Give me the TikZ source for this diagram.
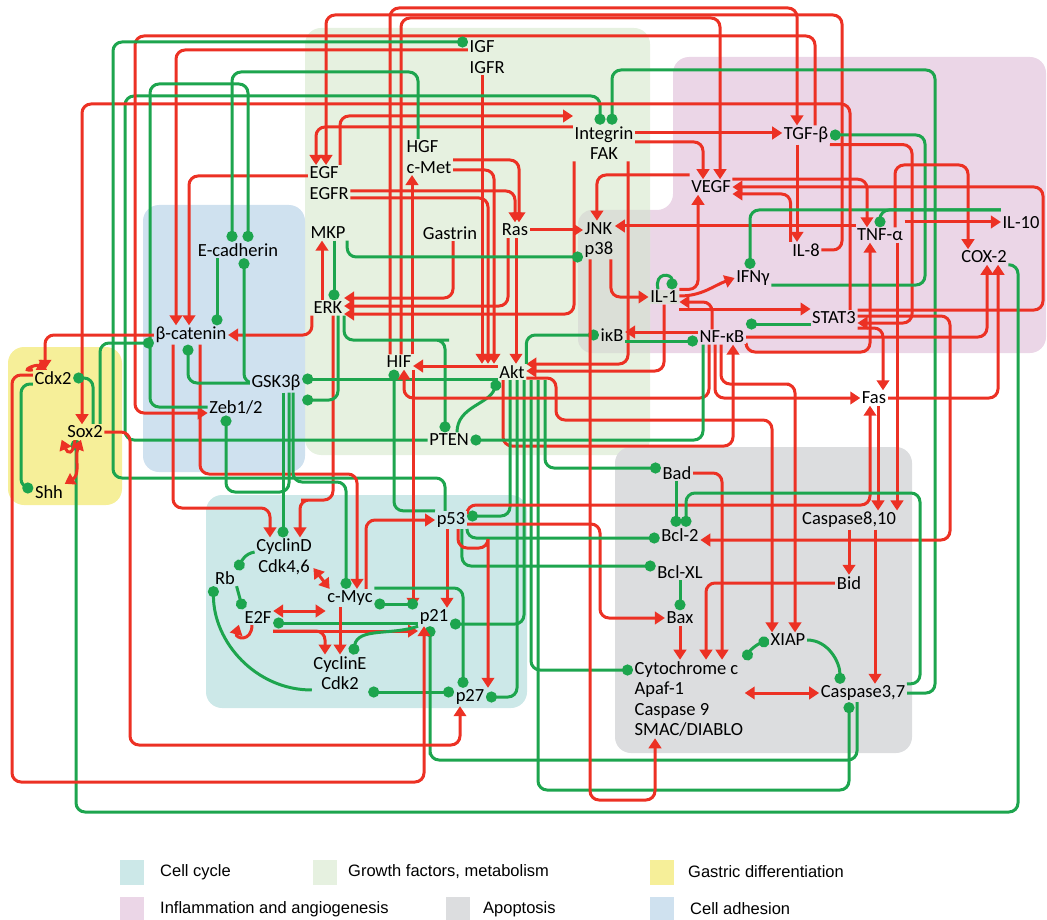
\documentclass[tikz,border=0pt]{standalone}
\usepackage{fontspec}
\setmainfont{Carlito}
\newfontfamily\legendfont{Liberation Sans}
\usetikzlibrary{arrows.meta}

\definecolor{actred}{RGB}{236,49,36}
\definecolor{inhgreen}{RGB}{29,165,78}
\definecolor{cellcycle}{RGB}{204,232,232}
\definecolor{growth}{RGB}{230,241,224}
\definecolor{gastric}{RGB}{246,239,153}
\definecolor{inflam}{RGB}{235,214,231}
\definecolor{apopt}{RGB}{220,221,223}
\definecolor{adhesion}{RGB}{207,225,239}
\definecolor{mixed}{RGB}{219,223,215}

\pgfdeclarelayer{regions}
\pgfdeclarelayer{links}
\pgfsetlayers{regions,links,main}

\tikzset{
  gene/.style={font=\fontsize{18.5}{20.5}\selectfont, inner sep=1.5pt, align=center},
  gf/.style={gene, fill=growth},
  mx/.style={gene, fill=mixed},
  inf/.style={gene, fill=inflam},
  adh/.style={gene, fill=adhesion},
  gas/.style={gene, fill=gastric},
  cc/.style={gene, fill=cellcycle},
  apo/.style={gene, fill=apopt},
  act/.style={draw=actred, line width=3pt, rounded corners=9pt, -{Triangle[length=10pt,width=12.5pt]}},
  dact/.style={act, {Triangle[length=10pt,width=12.5pt]}-{Triangle[length=10pt,width=12.5pt]}},
  inh/.style={draw=inhgreen, line width=3pt, rounded corners=9pt, -{Circle[length=11pt]}},
  dinh/.style={inh, {Circle[length=11pt]}-{Circle[length=11pt]}},
  legendtext/.style={font=\legendfont\fontsize{16.5}{18}\selectfont, inner sep=0pt, anchor=west},
}

\begin{document}
\begin{tikzpicture}[x=1pt,y=-1pt]
\useasboundingbox (0,0) rectangle (1047,920);

% background modules
\begin{pgfonlayer}{regions}
\fill[inflam,rounded corners=16pt] (673,57) -- (1046,57) -- (1046,353) -- (578,353) -- (578,210) -- (673,210) -- cycle;
\fill[growth,rounded corners=16pt] (305,28) rectangle (650,455);
\begin{scope}
  \clip (570,200) rectangle (650,360);
  \fill[mixed,rounded corners=14pt] (578,210) rectangle (690,353);
\end{scope}
\fill[adhesion,rounded corners=16pt] (143,205) rectangle (305,472);
\fill[gastric,rounded corners=16pt] (8,347) rectangle (122,505);
\fill[cellcycle,rounded corners=16pt] (206,495) rectangle (527,708);
\fill[apopt,rounded corners=16pt] (615,447) rectangle (912,753);
\end{pgfonlayer}

% growth factors, metabolism
\node[gf,align=left,anchor=west] (IGF) at (468,57) {IGF\\IGFR};
\node[gf,align=left,anchor=west] (HGF) at (405,157) {HGF\\c-Met};
\node[gf,align=left,anchor=west] (EGF) at (308,183) {EGF\\EGFR};
\node[gf] (Integrin) at (604,143) {Integrin\\FAK};
\node[gf] (MKP) at (328,233) {MKP};
\node[gf] (Gastrin) at (450,233) {Gastrin};
\node[gf] (Ras) at (515,230) {Ras};
\node[gf] (ERK) at (328,308) {ERK};
\node[gf] (HIF) at (399,362) {HIF};
\node[gf] (Akt) at (512,372) {Akt};
\node[gf] (PTEN) at (449,440) {PTEN};
\node[mx,align=left,anchor=west] (JNK) at (583,240) {JNK\\p38};
\node[mx] (IL1) at (664,297) {IL-1};
\node[mx] (IkB) at (612,335) {iκB};
% inflammation and angiogenesis
\node[inf] (TGF) at (806,135) {TGF-β};
\node[inf] (VEGF) at (711,187) {VEGF};
\node[inf] (IL8) at (806,250) {IL-8};
\node[inf] (TNF) at (880,235) {TNF-α};
\node[inf] (IL10) at (1021,223) {IL-10};
\node[inf] (COX2) at (984,257) {COX-2};
\node[inf] (IFN) at (753,278) {IFNγ};
\node[inf] (STAT3) at (834,318) {STAT3};
\node[inf] (NFkB) at (722,337) {NF-κB};
% cell adhesion
\node[adh] (Ecad) at (238,250) {E-cadherin};
\node[adh] (bcat) at (191,335) {β-catenin};
\node[adh] (GSK) at (276,383) {GSK3β};
\node[adh] (Zeb) at (236,407) {Zeb1/2};
% gastric differentiation
\node[gas] (Cdx2) at (53,378) {Cdx2};
\node[gas] (Sox2) at (85,432) {Sox2};
\node[gas] (Shh) at (49,492) {Shh};
% cell cycle
\node[cc] (CycD) at (284,557) {CyclinD\\Cdk4,6};
\node[cc] (Rb) at (225,578) {Rb};
\node[cc] (E2F) at (258,617) {E2F};
\node[cc] (cMyc) at (350,598) {c-Myc};
\node[cc] (p21) at (434,617) {p21};
\node[cc] (p53) at (451,520) {p53};
\node[cc] (CycE) at (340,673) {CyclinE\\Cdk2};
\node[cc] (p27) at (470,697) {p27};
% apoptosis
\node[gene,fill=white] (Fas) at (874,398) {Fas};
\node[apo] (Bad) at (677,473) {Bad};
\node[apo] (Casp8) at (849,520) {Caspase8,10};
\node[apo] (Bcl2) at (680,535) {Bcl-2};
\node[apo] (BclXL) at (680,572) {Bcl-XL};
\node[apo] (Bax) at (680,618) {Bax};
\node[apo] (Bid) at (849,583) {Bid};
\node[apo] (XIAP) at (788,640) {XIAP};
\node[apo,align=left,anchor=west] (Cyt) at (633,699) {Cytochrome c\\Apaf-1\\Caspase 9\\SMAC/DIABLO};
\node[apo] (Casp3) at (863,693) {Caspase3,7};

\begin{pgfonlayer}{links}
% growth factor signalling
\draw[act] (HIF.north -| 390,0) |- (600,8) -| (TGF.north -| 797,0);
\draw[act] (HIF.north -| 401,0) |- (600,18) -| (VEGF.north -| 720,0);
\draw[act] (HIF.north -| 412,0) -- (HGF.south -| 412,0);
\draw[act] (IGF.south -| 482,0) -- (Akt.north -| 482,0);
\draw[act] (EGF.east |- 0,198) -| (Akt.north -| 488,0);
\draw[act] (HGF.east |- 0,170) -| (Akt.north -| 494,0);
\draw[act] (HGF.east |- 0,160) -| ([xshift=4pt]Ras.north);
\draw[act] (EGF.east |- 0,191) -| (Ras.north);
\draw[act] (Ras.east) -- (JNK.west |- Ras.east);
\draw[act] (Ras.south -| 508,0) |- (ERK.east |- 0,306);
\draw[act] (Ras.south -| 516,0) -- (Akt.north -| 516,0);
\draw[act] ([xshift=3pt]Gastrin.south) |- (ERK.east |- 0,298);
\draw[act] (Integrin.south -| 574,0) |- (ERK.east |- 0,314);
\draw[act] (Integrin.west |- 0,127) -| (EGF.north -| 316,0);
\draw[act] (EGF.north -| 340,0) |- (Integrin.west |- 0,116);
\draw[act] (Integrin.east |- 0,133) -- (TGF.west |- 0,133);
\draw[act] (Integrin.east |- 0,142) -| (VEGF.north -| 703,0);
\draw[act] (Integrin.south -| 628,0) |- (Akt.east |- 0,364);
\draw[act] (IL8.east) -| (842,15) -| (EGF.north -| 326,0);
\draw[act] (IGF.west |- 0,50) -| (bcat.north -| 176,0);
\draw[act] (EGF.west |- 0,176) -| (bcat.north -| 189,0);
\draw[inh] (MKP.south east) |- (JNK.west |- 0,257);
\draw[inh] ([xshift=6pt]MKP.south) -- ([xshift=6pt]ERK.north);
\draw[act] ([xshift=-6pt]ERK.north) -- ([xshift=-6pt]MKP.south);
\draw[act] (ERK.south west) |- (bcat.east);
\draw[act] (ERK.south -| 333,0) |- (310,500) -| (CycD.north -| 300,0);
\draw[inh] (ERK.south -| 338,0) |- (GSK.east |- 0,400);
\draw[inh] (ERK.south east) |- (440,340) -| ([xshift=-4pt]PTEN.north);
\draw[act] (Akt.west |- 0,366) -- (HIF.east |- 0,366);
\draw[inh] (Akt.west |- 0,379) -- (GSK.east |- 0,379);
\draw[inh] ([xshift=8pt]PTEN.north) to[out=90,in=250] (Akt.south west);
\draw[act] (IL1.south) |- (Akt.east |- 0,371);
\draw[inh] (Akt.north east) |- (IkB.west);
\draw[act] (Akt.east |- 0,378) -| (556,420) -| (XIAP.north -| 772,0);
\draw[act] (Akt.south -| 503,0) |- (600,446) -| ([xshift=11pt]NFkB.south);
\draw[inh] (Akt.south -| 510,0) |- (p53.east |- 0,516);
\draw[inh] (Akt.south -| 517,0) |- (p27.east);
\draw[inh] (Akt.south -| 524,0) |- (p21.east |- 0,624);
\draw[inh] (Akt.south -| 531,0) |- (Cyt.west |- 0,670);
\draw[inh] (Akt.south -| 538,0) |- (700,790) -| (Casp3.south -| 849,0);
\draw[inh] (Akt.south -| 545,0) |- (Bad.west |- 0,468);
\draw[inh] (PTEN.west) -| (125,96) -| ([xshift=-4pt]Integrin.north);
\draw[inh] (Casp3.east) -| (935,70) -| ([xshift=8pt]Integrin.north);
% inflammation
\draw[act] (IL1.north east) -| (VEGF.south -| 698,0);
\draw[act] (IL1.east |- 0,296) to[out=0,in=200] (IFN.west);
\draw[inh] ([xshift=-6pt]IL1.north) .. controls +(-4,-18) and +(0,-16) .. ([xshift=8pt]IL1.north);
\draw[act] ([xshift=-10pt]NFkB.north) |- (IL1.east |- 0,302);
\draw[act] (IL1.east |- 0,309) -- (STAT3.west |- 0,309);
\draw[act] (NFkB.west |- 0,332) -- (IkB.east |- 0,332);
\draw[inh] (IkB.east |- 0,341) -- (NFkB.west |- 0,341);
\draw[inh] (STAT3.west |- 0,324) -- (NFkB.east |- 0,324);
\draw[act] ([xshift=12pt]JNK.south) |- (IL1.west);
\draw[act] (TNF.west |- 0,226) -- (JNK.east |- 0,226);
\draw[act] (VEGF.west |- 0,175) -| ([xshift=-2pt]JNK.north);
\draw[act] ([xshift=-9pt]TGF.south) -- ([xshift=-9pt]IL8.north);
\draw[act] (TGF.south east) -| (912,323) -- (STAT3.east |- 0,323);
\draw[inh] (IFN.east |- 0,285) -| (925,135) -- (TGF.east);
\draw[act] ([xshift=9pt]TGF.north) |- (135,36) |- (Zeb.west |- 0,413);
\draw[act] (VEGF.north east) -| ([xshift=-13pt]TNF.north);
\draw[act] (STAT3.east |- 0,310) -| (1043,187) -- (VEGF.east);
\draw[act] (IL8.north west) |- (VEGF.east |- 0,194);
\draw[act] (NFkB.east) -| ([xshift=3pt]COX2.south);
\draw[act] (Fas.east) -| ([xshift=14pt]COX2.south);
\draw[act] (TNF.north -| 895,0) |- (968,165) -- (COX2.north -| 968,0);
\draw[act] (NFkB.south east) |- (820,352) -| ([xshift=-10pt]TNF.south);
\draw[inh] (IL10.west |- 0,210) -| ([xshift=-3pt]IFN.north);
\draw[inh] (IL10.west |- 0,210) -| (TNF.north);
\draw[act] (TNF.east |- 0,222) -- (IL10.west |- 0,222);
\draw[act] (STAT3.east |- 0,328) -| ([xshift=9pt]Fas.north);
\draw[act] (STAT3.east |- 0,316) -| (950,540) -- (Bcl2.east |- 0,540);
\draw[act] (NFkB.south -| 715,0) |- (Fas.west);
\draw[act] (NFkB.south -| 721,0) |- (780,384) -| (XIAP.north -| 795,0);
\draw[act] (NFkB.south -| 709,0) |- (500,398) -| (HIF.south -| 404,0);
\draw[inh] (NFkB.south -| 703,0) |- (PTEN.east);
\draw[act] (STAT3.north -| 850,0) |- (82,104) -- (Sox2.north -| 82,0);
\draw[inh] (COX2.south east) -| (1018,812) -| (Sox2.south -| 76,0);
% apoptosis
\draw[act] ([xshift=4pt]Fas.south) -- (Casp8.north -| 878,0);
\draw[act] ([xshift=17pt]TNF.south) -- (Casp8.north -| 897,0);
\draw[act] (p53.north east) |- (700,505) -| ([xshift=-4pt]Fas.south);
\draw[act] (Casp8.south) -- (Bid.north);
\draw[act] (Casp8.south -| 875,0) -- (Casp3.north -| 875,0);
\draw[act] (Bid.west) -| (Cyt.north west -| 706,0);
\draw[act] (Bax.south) -- (Bax.south |- Cyt.north);
\draw[inh] (BclXL.south) -- (Bax.north);
\draw[inh] (Bad.south -| 676,0) -- (Bcl2.north -| 676,0);
\draw[act] (Bad.east) -| (Cyt.north west -| 722,0);
\draw[dact] (Cyt.east |- 0,693) -- (Casp3.west);
\draw[dinh] (XIAP.west) to[out=200,in=60] (Cyt.north east);
\draw[inh] (XIAP.east) to[out=0,in=90] (Casp3.north -| 840,0);
\draw[inh] (Casp3.north east) -| (920,493) -| ([xshift=6pt]Bcl2.north);
\draw[inh] (Casp3.south -| 857,0) |- (430,760) -| (p21.south -| 430,0);
\draw[act] (JNK.south -| 590,0) |- (655,800) -- (Cyt.south -| 655,0);
% p53 and cell cycle
\draw[act] (p53.east |- 0,524) -- (600,524) |- (Bax.west);
\draw[inh] (p53.south east) |- (Bcl2.west |- 0,538);
\draw[inh] ([xshift=-5pt]p53.south east) |- (BclXL.west |- 0,566);
\draw[act] (p53.south -| 447,0) -- (p21.north -| 447,0);
\draw[act] (p53.south -| 458,0) |- (488,548) -| (p27.north -| 488,0);
\draw[inh] (p53.north west) -| (HIF.south -| 394,0);
\draw[inh] (p53.north -| 445,0) |- (300,478) -| (113,200) |- (IGF.west |- 0,42);
\draw[act] (HIF.south -| 413,0) -- (p21.north -| 413,0);
\draw[act] (cMyc.north -| 366,0) |- (p53.west);
\draw[inh] (cMyc.east |- 0,588) -| (p27.north -| 463,0);
\draw[dinh] (cMyc.east |- 0,604) -- (p21.west |- 0,604);
\draw[inh] (p21.west |- 0,623) -- (E2F.east |- 0,623);
\draw[act] (E2F.east |- 0,631) -- (p21.west |- 0,631);
\draw[act] (E2F.east |- 0,631) -| (CycE.north -| 325,0);
\draw[act] (cMyc.south -| 340,0) -- (CycE.north -| 340,0);
\draw[inh] (p21.south west) to[out=200,in=80] (CycE.north -| 353,0);
\draw[dinh] (CycE.east |- 0,692) -- (p27.west |- 0,692);
\draw[dact] (E2F.east |- 0,611) -- (cMyc.west |- 0,611);
\draw[dact] (CycD.east |- 0,568) -- ([xshift=4pt]cMyc.north west);
\draw[inh] (CycD.west |- 0,552) to[out=190,in=60] (Rb.north east);
\draw[inh] (Rb.south east) -- (E2F.north west);
\draw[act] ([xshift=-6pt]E2F.south) .. controls +(0,18) and +(-4,14) .. ([xshift=-4pt]E2F.south west);
\draw[inh] (CycE.west |- 0,690) to[out=180,in=270] (Rb.south west);
\draw[act] (bcat.south -| 173,0) |- (250,508) -| (CycD.north -| 270,0);
\draw[act] (bcat.south -| 200,0) |- (357,474) -- (cMyc.north -| 357,0);
\draw[inh] (GSK.south -| 283,0) -- (CycD.north -| 283,0);
\draw[inh] (GSK.south -| 293,0) |- (320,482) -| (cMyc.north -| 346,0);
\draw[inh] (GSK.south -| 289,0) |- (250,492) -| (Zeb.south -| 226,0);
\draw[act] (Sox2.east) -| (130,745) -| ([xshift=-10pt]p27.south);
\draw[act] (Cdx2.west |- 0,375) -| (12,500) |- (300,782) -| (p21.south -| 424,0);
% cell adhesion and gastric differentiation
\draw[inh] (GSK.west) -| ([xshift=-3pt]bcat.south);
\draw[inh] (GSK.west) -| (Ecad.south -| 244,0);
\draw[inh] (Ecad.south -| 217,0) -- (bcat.north -| 217,0);
\draw[inh] (Zeb.west) -| (150,84) -| ([xshift=10pt]Ecad.north);
\draw[inh] (HGF.north -| 418,0) |- (232,72) -- (Ecad.north -| 232,0);
\draw[act] (bcat.west) -| (Cdx2.north -| 45,0);
\draw[inh] (Sox2.north -| 100,0) |- (bcat.west |- 0,343);
\draw[inh] (Sox2.north -| 93,0) |- (Cdx2.east);
\draw[inh] (Cdx2.west |- 0,384) -| (21,440) |- (Shh.west |- 0,488);
\draw[act] (Cdx2.north west) .. controls +(-14,2) and +(-12,-6) .. ([xshift=-6pt]Cdx2.north);
\draw[dact] ([xshift=-4pt]Sox2.south) to[out=250,in=30] (Shh.north east);
\draw[act] ([xshift=-10pt]Sox2.south) .. controls +(-2,16) and +(6,14) .. ([xshift=-4pt]Sox2.south west);
\end{pgfonlayer}

% legend
\foreach \col/\sx/\sy/\tx/\lab [count=\i] in {cellcycle/120/860/160/Cell cycle,
    growth/313/860/348/{Growth factors, metabolism},
    gastric/650/860/688/Gastric differentiation,
    inflam/120/897/160/Inflammation and angiogenesis,
    apopt/446/897/483/Apoptosis,
    adhesion/650/897/690/Cell adhesion}{
  \fill[\col] (\sx,\sy) rectangle ++(24,25);
  \node[legendtext] (leg\i) at (\tx,\sy+12) {\lab};
}
\end{tikzpicture}
\end{document}
